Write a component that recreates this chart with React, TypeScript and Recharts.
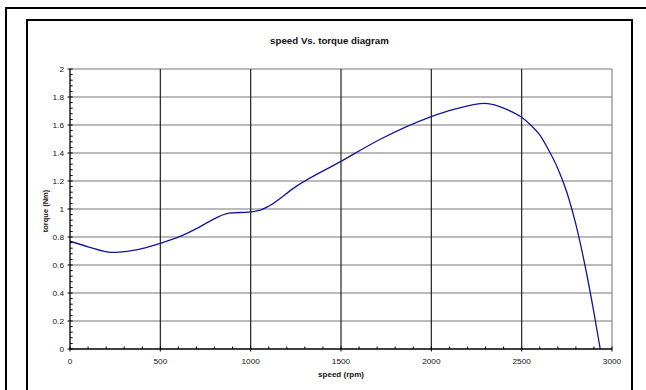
import React from "react";
import { LineChart, Line, XAxis, YAxis, ReferenceLine } from "recharts";

const speed = [0, 100, 230, 350, 500, 620, 700, 770, 880, 1000, 1050, 1100, 1250, 1500, 1720, 2000, 2120, 2300, 2420, 2500, 2550, 2600, 2650, 2700, 2750, 2800, 2850, 2900, 2935];
const torque = [0.77, 0.73, 0.69, 0.705, 0.755, 0.81, 0.86, 0.91, 0.97, 0.98, 0.99, 1.02, 1.16, 1.34, 1.5, 1.66, 1.71, 1.755, 1.71, 1.655, 1.6, 1.53, 1.42, 1.29, 1.12, 0.89, 0.6, 0.26, 0];

const xMajor = [0, 500, 1000, 1500, 2000, 2500, 3000];
const yMajor = [0, 0.2, 0.4, 0.6, 0.8, 1, 1.2, 1.4, 1.6, 1.8, 2];
const xTicks = Array.from({ length: 31 }, (_, i) => i * 100);
const yTicks = Array.from({ length: 51 }, (_, i) => Math.round(i * 4) / 100);

const title = "speed Vs. torque diagram";
const xTitle = "speed (rpm)";
const yTitle = "torque (Nm)";

const data = speed.map((s, i) => ({ speed: s, torque: torque[i] }));

const FONT = "'Liberation Sans', Arial, sans-serif";
const SX = 1.1;
const TICK_FS = 7.5;

function XTick(props: any) {
  const { x, y, payload } = props;
  const v = Math.round(payload.value);
  const major = v % 500 === 0;
  return (
    <g>
      <line x1={x} x2={x} y1={y - 2.5} y2={major ? y + 2.5 : y} stroke="#000" strokeWidth={1} />
      {major && (
        <text
          transform={`translate(${x},${y + 15}) scale(${SX},1)`}
          textAnchor="middle"
          fontSize={TICK_FS}
          fill="#111"
          fontFamily={FONT}
        >
          {v}
        </text>
      )}
    </g>
  );
}

function YTick(props: any) {
  const { x, y, payload } = props;
  const v = payload.value;
  const major = Math.round(v * 100) % 20 === 0;
  return (
    <g>
      <line x1={major ? x - 2.5 : x} x2={x + 2.7} y1={y} y2={y} stroke="#000" strokeWidth={1} />
      {major && (
        <text
          transform={`translate(${x - 6},${y + 2.6}) scale(${SX},1)`}
          textAnchor="end"
          fontSize={TICK_FS}
          fill="#111"
          fontFamily={FONT}
        >
          {String(Number(v.toFixed(1)))}
        </text>
      )}
    </g>
  );
}

export default function App() {
  return (
    <div style={{ position: "absolute", left: 0, top: 0, width: 646, height: 390, overflow: "hidden", background: "#fff" }}>
      <div style={{ position: "absolute", left: 5, top: 7, width: 700, height: 500, border: "2px solid #000", boxSizing: "border-box" }} />
      <div style={{ position: "absolute", left: 26, top: 19, width: 607, height: 500, border: "2px solid #000", boxSizing: "border-box" }} />
      <div style={{ position: "absolute", left: 0, top: 0 }}>
        <LineChart width={646} height={390} data={data} margin={{ top: 69, right: 34, bottom: 11, left: 30 }}>
          <XAxis
            dataKey="speed"
            type="number"
            domain={[0, 3000]}
            ticks={xTicks}
            interval={0}
            tickSize={0}
            tickMargin={0}
            tickLine={false}
            tick={<XTick />}
            height={30}
            axisLine={{ stroke: "#000", strokeWidth: 1.3 }}
            allowDataOverflow
          />
          <YAxis
            type="number"
            domain={[0, 2]}
            ticks={yTicks}
            interval={0}
            tickSize={0}
            tickMargin={0}
            tickLine={false}
            tick={<YTick />}
            width={40}
            axisLine={{ stroke: "#000", strokeWidth: 1.3 }}
            allowDataOverflow
          />
          {yMajor.slice(1).map((v) => (
            <ReferenceLine key={"h" + v} y={v} stroke="#777" strokeWidth={1.2} />
          ))}
          {xMajor.slice(1, -1).map((v) => (
            <ReferenceLine key={"v" + v} x={v} stroke="#222" strokeWidth={1.2} />
          ))}
          <ReferenceLine x={3000} stroke="#888" strokeWidth={1.2} />
          <Line
            dataKey="torque"
            type="monotone"
            stroke="#15159c"
            strokeWidth={1.3}
            dot={false}
            isAnimationActive={false}
          />
        </LineChart>
      </div>
      <svg width={646} height={390} style={{ position: "absolute", left: 0, top: 0, pointerEvents: "none" }}>
        <text
          transform={`translate(329.5,43.5) scale(1.08,1)`}
          textAnchor="middle"
          fontSize={9}
          fontWeight="bold"
          fill="#111"
          fontFamily={FONT}
        >
          {title}
        </text>
        <text
          transform={`translate(341,376.5) scale(1.07,1)`}
          textAnchor="middle"
          fontSize={7.5}
          fontWeight="bold"
          fill="#111"
          fontFamily={FONT}
        >
          {xTitle}
        </text>
        <text
          transform={`translate(47.5,211) scale(1.07,1) rotate(-90)`}
          textAnchor="middle"
          fontSize={7.5}
          fontWeight="bold"
          fill="#111"
          fontFamily={FONT}
        >
          {yTitle}
        </text>
      </svg>
    </div>
  );
}
